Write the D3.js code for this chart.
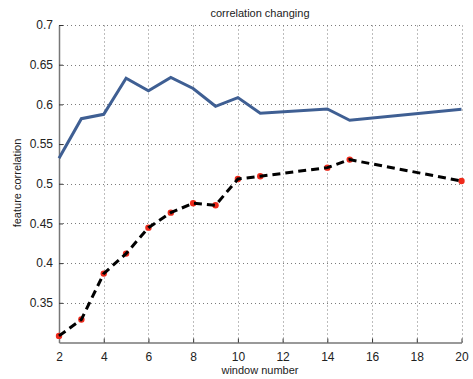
<!DOCTYPE html>
<html>
<head>
<meta charset="utf-8">
<script src="https://cdn.jsdelivr.net/npm/d3@7"></script>
<style>
  body { margin: 0; background: #fff; }
  text { font-family: "Liberation Sans", Arial, sans-serif; fill: #222; }
</style>
</head>
<body>
<svg id="chart" width="473" height="379"></svg>
<script>
// window numbers
const windows = [2, 3, 4, 5, 6, 7, 8, 9, 10, 11, 14, 15, 20];
// solid blue series
const upper = [0.532, 0.582, 0.5875, 0.633, 0.617, 0.634, 0.620, 0.5976, 0.6085, 0.5888, 0.5942, 0.580, 0.5938];
// dashed series with red markers
const lower = [0.3083, 0.3289, 0.3868, 0.412, 0.4447, 0.4636, 0.4754, 0.4729, 0.506, 0.5095, 0.5203, 0.5304, 0.5035];
const xTicks = [2, 4, 6, 8, 10, 12, 14, 16, 18, 20];
const yTicks = [0.35, 0.4, 0.45, 0.5, 0.55, 0.6, 0.65, 0.7];

const svg = d3.select('#chart');
const m = {left: 59, right: 11.5, top: 25, bottom: 36.5};
const W = 473, H = 379;

let x = d3.scaleLinear().domain([2, 20]).range([m.left, W - m.right]);
let y = d3.scaleLinear().domain([0.3, 0.7]).range([H - m.bottom, m.top]);

// grid
let grid = svg.append('g').attr('stroke', '#444').attr('stroke-width', 1)
  .attr('stroke-dasharray', '1 3').attr('opacity', 0.7);
grid.selectAll('.gx').data(xTicks.slice(1)).enter().append('line')
  .attr('x1', d => Math.round(x(d)) + 0.5).attr('x2', d => Math.round(x(d)) + 0.5)
  .attr('y1', y(0.3)).attr('y2', y(0.7));
grid.selectAll('.gy').data(yTicks).enter().append('line')
  .attr('y1', d => Math.round(y(d)) + 0.5).attr('y2', d => Math.round(y(d)) + 0.5)
  .attr('x1', x(2)).attr('x2', x(20));

// axes
let xAxis = svg.append('g').attr('transform', 'translate(0,' + y(0.3) + ')')
  .call(d3.axisBottom(x).tickValues(xTicks).tickSizeInner(-4).tickSizeOuter(0).tickPadding(10));
let yAxis = svg.append('g').attr('transform', 'translate(' + x(2) + ',0)')
  .call(d3.axisLeft(y).tickValues(yTicks).tickFormat(d3.format('')).tickSizeInner(-4).tickSizeOuter(0).tickPadding(6));
[xAxis, yAxis].forEach(a => {
  a.select('.domain').attr('stroke', '#777').attr('stroke-width', 1.5);
  a.selectAll('.tick line').attr('stroke', '#333');
  a.selectAll('.tick text').style('font-size', '12px').attr('fill', '#222');
});

// lines
let line = d3.line().x(d => x(d[0])).y(d => y(d[1]));
svg.append('path').datum(windows.map((w, i) => [w, upper[i]]))
  .attr('d', line).attr('fill', 'none').attr('stroke', '#3f5f93')
  .attr('stroke-width', 3).attr('stroke-linejoin', 'miter');

let low = windows.map((w, i) => [w, lower[i]]);
// markers sit under the dashed line
svg.selectAll('.dot').data(low).enter().append('circle')
  .attr('cx', d => x(d[0])).attr('cy', d => y(d[1])).attr('r', 3.2)
  .attr('fill', '#ee2a1b');
svg.append('path').datum(low)
  .attr('d', line).attr('fill', 'none').attr('stroke', '#000')
  .attr('stroke-width', 3).attr('stroke-dasharray', '8 5');

// labels
svg.append('text').attr('x', 260).attr('y', 17).attr('text-anchor', 'middle')
  .style('font-size', '11px').text('correlation changing');
svg.append('text').attr('x', 260).attr('y', 374).attr('text-anchor', 'middle')
  .style('font-size', '11px').text('window number');
svg.append('text').attr('transform', 'translate(21,' + 183 + ') rotate(-90)')
  .attr('text-anchor', 'middle').style('font-size', '11px').text('feature correlation');
</script>
</body>
</html>
